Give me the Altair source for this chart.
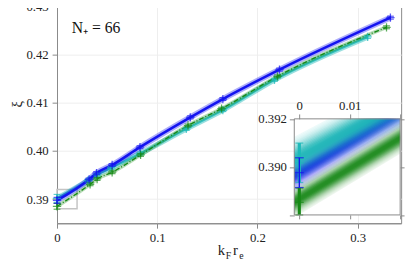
import math
import altair as alt
import pandas as pd

# ---------------- data ----------------
blue_x = [0.0, 0.032, 0.0394, 0.055, 0.0828, 0.133, 0.1655, 0.222, 0.3327]
blue_y = [0.38976, 0.3941, 0.3954, 0.3971, 0.4008, 0.4070, 0.4108, 0.4169, 0.4277]
blue_err = [0.00062, 0.0003, 0.0003, 0.0003, 0.0003, 0.0003, 0.0003, 0.0003, 0.0003]

cyan_x = [0.0, 0.031, 0.040, 0.054, 0.083, 0.129, 0.1655, 0.217, 0.310]
cyan_y = [0.39017, 0.3939, 0.3951, 0.3965, 0.3995, 0.4046, 0.4085, 0.4148, 0.4237]
cyan_err = [0.00082, 0.0003, 0.0003, 0.0003, 0.0003, 0.0003, 0.0003, 0.0003, 0.0003]

green_x = [0.0, 0.033, 0.040, 0.055, 0.0834, 0.1307, 0.1642, 0.220, 0.3288]
green_y = [0.38852, 0.3931, 0.3942, 0.3956, 0.3992, 0.4053, 0.4088, 0.4155, 0.4257]
green_err = [0.0006, 0.0003, 0.0003, 0.0003, 0.0003, 0.0003, 0.0003, 0.0003, 0.0003]

main_x_domain = [0.0, 0.3434]
main_y_domain = [0.385, 0.43]
main_x_ticks = [0, 0.1, 0.2, 0.3]
main_y_ticks = [0.39, 0.40, 0.41, 0.42, 0.43]

inset_x_domain = [-0.001, 0.02]
inset_y_domain = [0.388, 0.392]
zoom_box_x = [0.0, 0.02]
inset_x_ticks = [0, 0.01, 0.02]
inset_y_ticks = [0.388, 0.390, 0.392]

# inset fit bands: centre at left / right edge of the inset, outer half width
fit_center = {"green": [0.38854, 0.39120], "blue": [0.38965, 0.39232], "cyan": [0.39030, 0.39262]}
fit_half = {"green": 0.00065, "blue": 0.0007, "cyan": 0.00095}

label_text = "N\u208a = 66"

COLORS = {"blue": "#1414f0", "cyan": "#1cb9b9", "green": "#178a17"}
FONT = "Liberation Serif"

# ---------------- layout / style ----------------
W, H = 351, 221
IL, IR, IT, IB = 242, 350, 114.5, 212.5
GRAY = "#888888"

# gradient levels (style): cumulative alpha follows a soft bell shape
N_LEV = 16
SIG, PEAK = 0.42, 0.93
lev_k = [(i + 1) / N_LEV for i in range(N_LEV)]          # inner -> outer


def _alpha(k):
    return PEAK * math.exp(-k * k / (2 * SIG * SIG))


lev_op = []
for i, k in enumerate(lev_k):
    a_here = _alpha(k - 1.0 / N_LEV) if i > 0 else PEAK
    a_out = _alpha(k) if i < N_LEV - 1 else 0.0
    lev_op.append(max(0.0, 1 - (1 - a_here) / (1 - a_out)))


def pts_df(xs, ys, es):
    return pd.DataFrame({"x": xs, "y": ys,
                         "lo": [y - e for y, e in zip(ys, es)],
                         "hi": [y + e for y, e in zip(ys, es)]})


data = {"blue": pts_df(blue_x, blue_y, blue_err),
        "cyan": pts_df(cyan_x, cyan_y, cyan_err),
        "green": pts_df(green_x, green_y, green_err)}

mx = alt.Scale(domain=main_x_domain, nice=False, zero=False)
my = alt.Scale(domain=main_y_domain, nice=False, zero=False)
ax_x = alt.Axis(values=main_x_ticks, format=".1~f", title=None, grid=True, gridColor="#eeeeee",
                domainColor=GRAY, tickColor=GRAY, tickSize=5, labelPadding=4, labelFlush=False)
ax_y = alt.Axis(values=main_y_ticks, format=".2f", title="\u03be", titleX=-41, titleY=99, titleAngle=270,
                titleAlign="center", titleBaseline="middle", titleFontSize=15, titleFontWeight="normal",
                grid=True, gridColor="#eeeeee", domainColor=GRAY, tickColor=GRAY, tickSize=5,
                labelPadding=4, labelFlush=False)


def MX(f="x"):
    return alt.X(f"{f}:Q", scale=mx, axis=ax_x)


def MY(f="y"):
    return alt.Y(f"{f}:Q", scale=my, axis=ax_y)


PLUS = "M-1,0L1,0M0,-1L0,1"
DASH = "M-1,0L1,0"

main_layers = []
box_main = pd.DataFrame({"x0": [zoom_box_x[0]], "x1": [zoom_box_x[1]],
                         "y0": [inset_y_domain[0]], "y1": [inset_y_domain[1]]})
main_layers.append(alt.Chart(box_main).mark_rect(fillOpacity=0, stroke="#c4c4c4", strokeWidth=1.5)
                   .encode(x=MX("x0"), x2="x1:Q", y=MY("y0"), y2="y1:Q"))

line_styles = {
    "cyan": [dict(strokeWidth=5.5, opacity=0.45), dict(strokeWidth=2.2, opacity=0.85)],
    "green": [dict(strokeWidth=4, opacity=0.3), dict(strokeWidth=1.4, opacity=1, strokeDash=[5, 2, 1, 2])],
    "blue": [dict(strokeWidth=6, opacity=0.35), dict(strokeWidth=2.6, opacity=1)],
}
for s in ["cyan", "green", "blue"]:
    for st in line_styles[s]:
        main_layers.append(alt.Chart(data[s]).mark_line(color=COLORS[s], interpolate="monotone", **st)
                           .encode(x=MX(), y=MY()))
for s in ["cyan", "green", "blue"]:
    d = data[s]
    main_layers.append(alt.Chart(d).mark_rule(color=COLORS[s], strokeWidth=1.2)
                       .encode(x=MX(), y=MY("lo"), y2="hi:Q"))
    for f in ["lo", "hi"]:
        main_layers.append(alt.Chart(d).mark_point(shape=DASH, size=49, filled=False, color=COLORS[s], strokeWidth=1.2)
                           .encode(x=MX(), y=MY(f)))
    main_layers.append(alt.Chart(d).mark_point(shape=PLUS, size=72, filled=False, color=COLORS[s], strokeWidth=1.3)
                       .encode(x=MX(), y=MY()))

one = pd.DataFrame({"t": [label_text]})
main_layers.append(alt.Chart(one).mark_text(align="left", baseline="alphabetic", font=FONT, fontSize=16, color="#111")
                   .encode(text="t:N", x=alt.value(15), y=alt.value(27)))
title_parts = [("k", 164, 253, 15), ("F", 172, 257, 10), ("r", 179.5, 253, 15), ("e", 186, 257, 10)]
for t, px, py, fs in title_parts:
    main_layers.append(alt.Chart(pd.DataFrame({"t": [t]})).mark_text(align="left", baseline="alphabetic", font=FONT,
                                                                       fontSize=fs, color="#222")
                       .encode(text="t:N", x=alt.value(px), y=alt.value(py)))

main = alt.layer(*main_layers)

# ---------------- inset ----------------
ix = alt.Scale(domain=inset_x_domain, range=[IL, IR], nice=False, zero=False)
iy = alt.Scale(domain=inset_y_domain, range=[IB, IT], nice=False, zero=False, clamp=True)
ax_ix = alt.Axis(orient="top", offset=-IT, values=inset_x_ticks,
                 labelExpr="datum.value > 0.015 ? '' : format(datum.value, '.2~f')",
                 title=None, grid=False, domain=False, tickColor=GRAY, tickSize=5, labelPadding=2,
                 labelFlush=False, zindex=1)
ax_iy = alt.Axis(orient="left", offset=-IL, values=inset_y_ticks,
                 labelExpr="datum.value < 0.3885 ? '' : format(datum.value, '.3f')",
                 title=None, grid=False, domain=False, tickColor=GRAY, tickSize=5, labelPadding=3,
                 labelFlush=False, zindex=1)


def IX(f="x"):
    return alt.X(f"{f}:Q", scale=ix, axis=ax_ix)


def IY(f="y"):
    return alt.Y(f"{f}:Q", scale=iy, axis=ax_iy)


def clipped_band(c_left, c_right, half):
    x0, x1 = inset_x_domain
    y_lo, y_hi = inset_y_domain
    cuts = {x0, x1}
    for off in (-half, half):
        for yb in (y_lo, y_hi):
            t = (yb - (c_left + off)) / (c_right - c_left)
            if 0 < t < 1:
                cuts.add(x0 + t * (x1 - x0))
    rows = []
    for x in sorted(cuts):
        t = (x - x0) / (x1 - x0)
        c = c_left + t * (c_right - c_left)
        rows.append({"x": x, "lo": min(max(c - half, y_lo), y_hi), "hi": min(max(c + half, y_lo), y_hi)})
    return rows


box_inset = pd.DataFrame({"x0": [inset_x_domain[0]], "x1": [inset_x_domain[1]],
                          "y0": [inset_y_domain[0]], "y1": [inset_y_domain[1]]})
inset_layers = [alt.Chart(box_inset).mark_rect(fill="white")
                .encode(x=IX("x0"), x2="x1:Q", y=IY("y0"), y2="y1:Q")]
for s in ["green", "blue", "cyan"]:
    rows = []
    for k, op in zip(lev_k, lev_op):
        if op <= 0.002:
            continue
        for r in clipped_band(fit_center[s][0], fit_center[s][1], fit_half[s] * k):
            r["level"] = k
            r["op"] = op
            rows.append(r)
    inset_layers.append(alt.Chart(pd.DataFrame(rows)).mark_area(color=COLORS[s], strokeWidth=0)
                        .encode(x=IX(), y=IY("lo"), y2="hi:Q", detail="level:N",
                                opacity=alt.Opacity("op:Q", scale=None)))

bar_style = {"cyan": (3.2, 8), "blue": (1.4, 9), "green": (3.2, 8)}
for s in ["cyan", "green", "blue"]:
    d = data[s].iloc[[0]]
    w, cap = bar_style[s]
    inset_layers.append(alt.Chart(d).mark_rule(color=COLORS[s], strokeWidth=w)
                        .encode(x=IX(), y=IY("lo"), y2="hi:Q"))
    for f in ["lo", "hi"]:
        inset_layers.append(alt.Chart(d).mark_point(shape=DASH, size=cap * cap, filled=False, color=COLORS[s],
                                                    strokeWidth=1.3).encode(x=IX(), y=IY(f)))
    inset_layers.append(alt.Chart(d).mark_point(shape=PLUS, size=81, filled=False, color=COLORS[s], strokeWidth=1.3)
                        .encode(x=IX(), y=IY()))
inset = alt.layer(*inset_layers)

ix2 = alt.Scale(domain=inset_x_domain, range=[IL, IR], nice=False, zero=False)
iy2 = alt.Scale(domain=inset_y_domain, range=[IB, IT], nice=False, zero=False)
ax_ix2 = alt.Axis(orient="bottom", offset=IB - H, values=inset_x_ticks, labels=False, title=None, grid=False,
                  domain=False, tickColor=GRAY, tickSize=4, zindex=1)
ax_iy2 = alt.Axis(orient="right", offset=IR - W, values=inset_y_ticks, labels=False, title=None, grid=False,
                  domain=False, tickColor=GRAY, tickSize=4, zindex=1)
border = alt.Chart(box_inset).mark_rect(fillOpacity=0, stroke=GRAY, strokeWidth=1).encode(
    x=alt.X("x0:Q", scale=ix2, axis=ax_ix2), x2="x1:Q",
    y=alt.Y("y0:Q", scale=iy2, axis=ax_iy2), y2="y1:Q")

chart = (alt.layer(main, inset, border)
         .resolve_scale(x="independent", y="independent")
         .properties(width=W, height=H,
                     padding={"left": 50, "top": -4, "right": 7, "bottom": 40},
                     autosize=alt.AutoSizeParams(type="none"))
         .configure_view(stroke=GRAY, strokeWidth=1)
         .configure_axis(labelFont=FONT, titleFont=FONT, labelFontSize=13, labelColor="#222222",
                         titleColor="#222222"))

chart.save("out.html", embed_options={"renderer": "svg", "actions": False})
